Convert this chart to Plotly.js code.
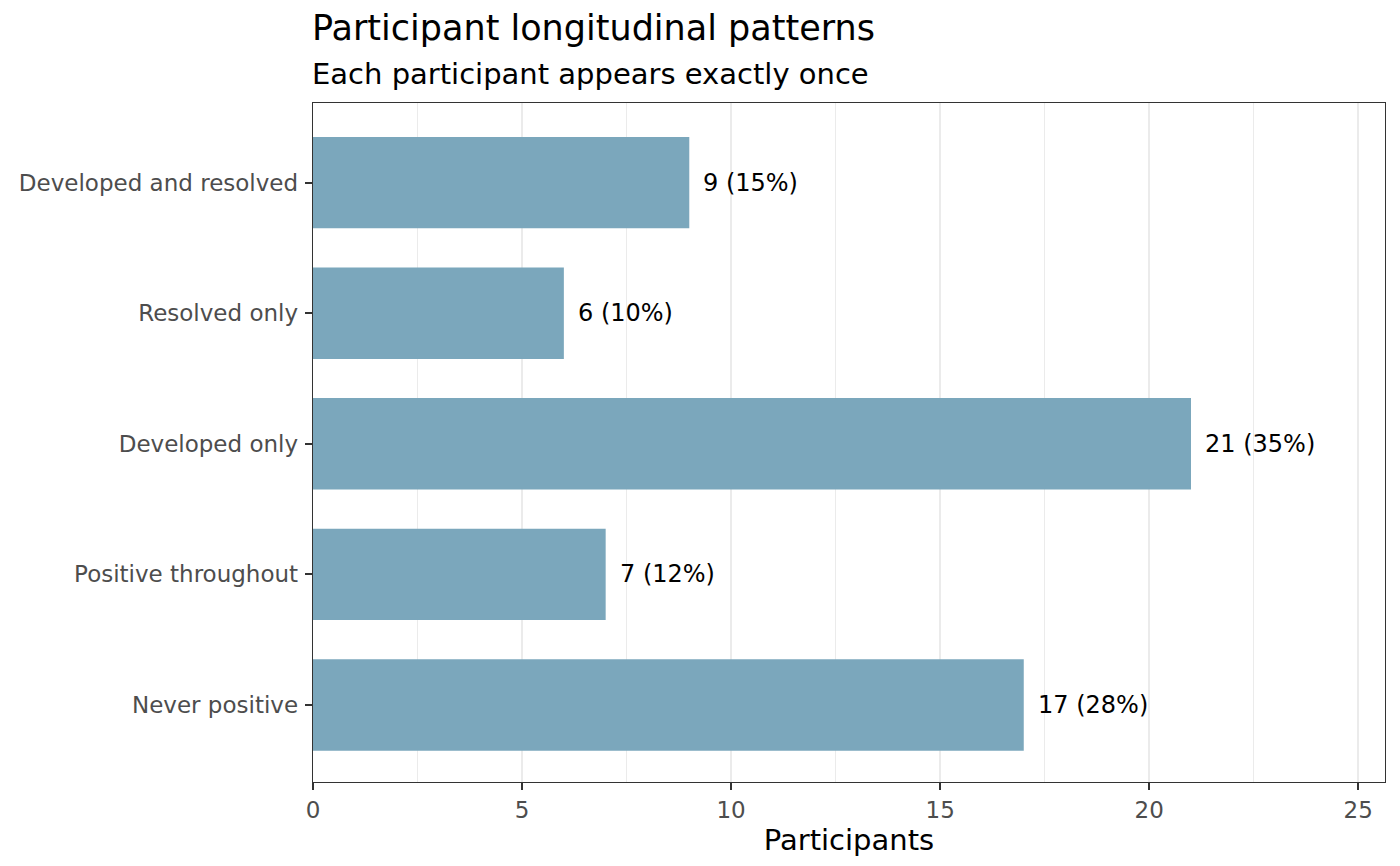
<!DOCTYPE html>
<html>
<head>
<meta charset="utf-8">
<script src="https://cdn.plot.ly/plotly-3.0.1.min.js"></script>
<style>
  html, body { margin: 0; padding: 0; background: #fff; }
  #chart { width: 1400px; height: 866px; }
</style>
</head>
<body>
<div id="chart"></div>
<script>
// categories, bottom to top (plotly puts first category at the bottom)
const patterns = ['Never positive', 'Positive throughout', 'Developed only', 'Resolved only', 'Developed and resolved'];
const participants = [17, 7, 21, 6, 9];
const percents = [28, 12, 35, 10, 15];

const xTicks = [0, 5, 10, 15, 20, 25];

const barColor = '#7BA7BC';
const font = 'DejaVu Sans, sans-serif';

// bar labels like "17 (28%)"
const labels = participants.map((n, i) => n + ' (' + percents[i] + '%)');

const trace = {
    type: 'bar',
    orientation: 'h',
    x: participants,
    y: patterns,
    marker: { color: barColor },
    hoverinfo: 'x+y'
};

const labelNotes = participants.map((n, i) => ({
    x: n, y: patterns[i], xref: 'x', yref: 'y',
    text: labels[i], showarrow: false,
    xanchor: 'left', yanchor: 'middle', xshift: 12,
    font: { family: font, size: 24, color: '#000' }
}));

const layout = {
    width: 1400, height: 866,
    margin: { l: 313, r: 15, t: 103, b: 84 },
    paper_bgcolor: '#fff',
    plot_bgcolor: '#fff',
    showlegend: false,
    bargap: 0.3,
    font: { family: font },
    xaxis: {
        range: [0, 25.64],
        tickvals: xTicks,
        ticktext: xTicks.map(String),
        ticks: 'outside', ticklen: 7, tickwidth: 2, tickcolor: '#333333',
        tickfont: { family: font, size: 23, color: '#4D4D4D' },
        showgrid: true, gridcolor: '#EBEBEB', gridwidth: 2,
        minor: { dtick: 2.5, tick0: 0, showgrid: true, gridcolor: '#EBEBEB', gridwidth: 1, ticks: '' },
        showline: true, linecolor: '#333333', linewidth: 1.3, mirror: true,
        zeroline: false,
        title: { text: 'Participants', font: { family: font, size: 29, color: '#000' }, standoff: 3 }
    },
    yaxis: {
        type: 'category',
        range: [-0.59, 4.61],
        ticks: 'outside', ticklen: 7, tickwidth: 2, tickcolor: '#333333',
        tickfont: { family: font, size: 23, color: '#4D4D4D' },
        ticklabelstandoff: 2,
        showgrid: false,
        showline: true, linecolor: '#333333', linewidth: 1.3, mirror: true,
        zeroline: false
    },
    annotations: [
        {
            text: 'Participant longitudinal patterns',
            xref: 'paper', yref: 'paper', x: 0, y: 1.11, xshift: -3,
            xanchor: 'left', yanchor: 'middle', showarrow: false,
            font: { family: font, size: 35, color: '#000' }
        },
        {
            text: 'Each participant appears exactly once',
            xref: 'paper', yref: 'paper', x: 0, y: 1.043, xshift: -3,
            xanchor: 'left', yanchor: 'middle', showarrow: false,
            font: { family: font, size: 29, color: '#000' }
        }
    ].concat(labelNotes)
};

Plotly.newPlot('chart', [trace], layout, { displayModeBar: false, staticPlot: true });
</script>
</body>
</html>
